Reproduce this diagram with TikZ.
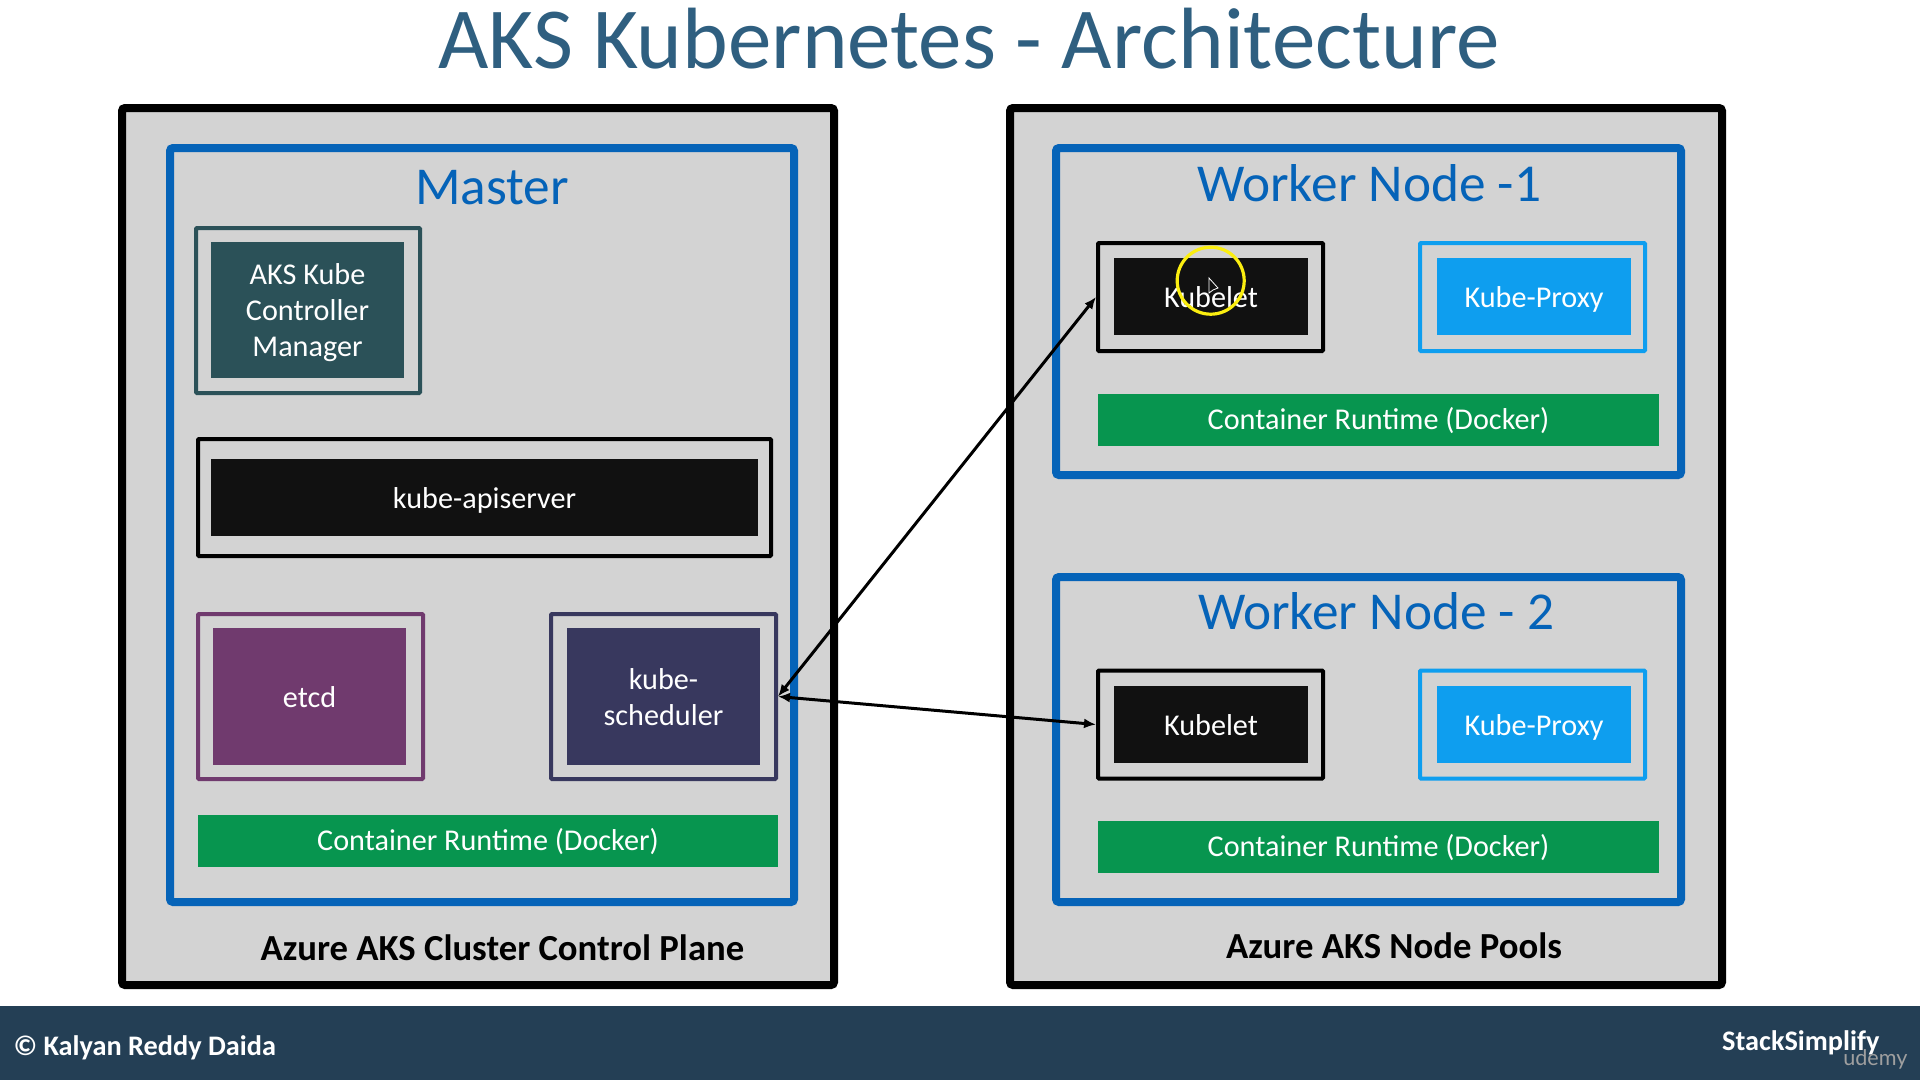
\documentclass[tikz,border=0pt]{standalone}
\usepackage{fontspec}
\setmainfont{Carlito}
\newfontfamily\udemyfont{Lato}
\usetikzlibrary{calc,arrows.meta}
\definecolor{titleblue}{HTML}{2F5F80}
\definecolor{panelgray}{HTML}{D3D3D3}
\definecolor{masterblue}{HTML}{0563B8}
\definecolor{kcmteal}{HTML}{2B5158}
\definecolor{nearblack}{HTML}{111111}
\definecolor{etcdpurple}{HTML}{703A6E}
\definecolor{schednavy}{HTML}{38385E}
\definecolor{proxyblue}{HTML}{0E9EEF}
\definecolor{runtimegreen}{HTML}{07954F}
\definecolor{footerblue}{HTML}{243F55}
\definecolor{ringyellow}{HTML}{FBEE10}
\tikzset{
  cluster/.style={draw=black, line width=8pt, fill=panelgray, rounded corners=3pt},
  plane/.style={draw=masterblue, line width=8pt, fill=panelgray, rounded corners=3pt},
  frame/.style={draw=#1, line width=4pt, rounded corners=1pt},
  inner/.style={fill=#1, text=white, align=center, font=\fontsize{30.2}{36}\selectfont},
  oneline/.style={text height=22pt, text depth=0pt},
  runtime/.style={fill=runtimegreen, text=white, minimum height=52pt, text height=19pt, text depth=0pt, font=\fontsize{30.2}{36}\selectfont},
  heading/.style={text=masterblue, font=\fontsize{53.3}{60}\selectfont},
  caption/.style={font=\fontsize{36.7}{40}\selectfont\bfseries},
  link/.style={{Latex[length=12pt,width=10pt]}-{Latex[length=12pt,width=10pt]}, line width=3pt},
}
\begin{document}
\begin{tikzpicture}[x=1pt, y=-1pt]
\useasboundingbox (0,0) rectangle (1920,1080);
% Title
\node[text=titleblue, font=\fontsize{87}{90}\selectfont] (title) at (969,39) {AKS Kubernetes - Architecture};
% Left cluster
\node[cluster, minimum width=712pt, minimum height=877pt] (controlplane) at (478,546.5) {};
\node[plane, minimum width=624pt, minimum height=754pt] (master) at (482,525) {};
\node[heading] (mastertitle) at (492,188) {Master};
% AKS Kube Controller Manager
\node[frame=kcmteal, minimum width=224pt, minimum height=165pt] (kcmframe) at (308,310.5) {};
\node[inner=kcmteal, minimum width=193pt, minimum height=136pt] (kcm) at (307.5,310) {\rule{0pt}{26pt}AKS Kube\\Controller\\Manager};
% kube-apiserver
\node[frame=black, minimum width=573pt, minimum height=117pt] (apiframe) at (484.5,497.5) {};
\node[inner=nearblack, oneline, minimum width=547pt, minimum height=77pt] (api) at (484.5,497.5) {kube-apiserver};
% etcd
\node[frame=etcdpurple, minimum width=225pt, minimum height=165pt] (etcdframe) at (310.5,696.5) {};
\node[inner=etcdpurple, oneline, minimum width=193pt, minimum height=137pt] (etcd) at (309.5,696.5) {etcd};
% kube-scheduler
\node[frame=schednavy, minimum width=225pt, minimum height=165pt] (schedframe) at (663.5,696.5) {};
\node[inner=schednavy, minimum width=193pt, minimum height=137pt] (sched) at (663.5,696.5) {\rule{0pt}{23pt}kube-\\scheduler};
% Container runtime on master
\node[runtime, minimum width=580pt] (runtimem) at (488,841) {Container Runtime (Docker)};
\node[caption] (captionl) at (502.5,948) {Azure AKS Cluster Control Plane};
% Right cluster
\node[cluster, minimum width=712pt, minimum height=877pt] (nodepools) at (1366,546.5) {};
% Worker 1
\node[plane, minimum width=625pt, minimum height=327pt] (workera) at (1368.5,311.5) {};
\node[heading] (workeratitle) at (1369,183) {Worker Node -1};
\node[frame=black, minimum width=225pt, minimum height=108pt] (kubeletaframe) at (1210.5,297) {};
\node[inner=nearblack, oneline, minimum width=194pt, minimum height=77pt] (kubeleta) at (1211,296.5) {Kubelet};
\node[frame=proxyblue, minimum width=225pt, minimum height=108pt] (proxyaframe) at (1532.5,297) {};
\node[inner=proxyblue, oneline, minimum width=194pt, minimum height=77pt] (proxya) at (1534,296.5) {Kube-Proxy};
\node[runtime, minimum width=561pt] (runtimea) at (1378.5,420) {Container Runtime (Docker)};
% Worker 2
\node[plane, minimum width=625pt, minimum height=325pt] (workerb) at (1368.5,739.5) {};
\node[heading] (workerbtitle) at (1376,611) {Worker Node - 2};
\node[frame=black, minimum width=225pt, minimum height=108pt] (kubeletbframe) at (1210.5,724.5) {};
\node[inner=nearblack, oneline, minimum width=194pt, minimum height=77pt] (kubeletb) at (1211,724.5) {Kubelet};
\node[frame=proxyblue, minimum width=225pt, minimum height=108pt] (proxybframe) at (1532.5,724.5) {};
\node[inner=proxyblue, oneline, minimum width=194pt, minimum height=77pt] (proxyb) at (1534,724.5) {Kube-Proxy};
\node[runtime, minimum width=561pt] (runtimeb) at (1378.5,847) {Container Runtime (Docker)};
\node[caption] (captionr) at (1394,946) {Azure AKS Node Pools};
% Arrows
\draw[link] (schedframe.east) -- (kubeletaframe.west);
\draw[link] (schedframe.east) -- (kubeletbframe.west);
% Pointer ring
\draw[ringyellow, line width=3.2pt] (1210.7,280.7) circle (33.5);
\draw[white, fill=nearblack, line width=0.8pt] (1209,278) -- (1209,293) -- (1213,290) -- (1218,288) -- cycle;
% Footer
\fill[footerblue] (0,1006) rectangle (1920,1080);
\node[text=white, anchor=west, font=\fontsize{28.3}{32}\selectfont\bfseries] (copyright) at (10,1048) {© Kalyan Reddy Daida};
\node[text=white, anchor=east, font=\fontsize{28.3}{32}\selectfont\bfseries] (brand) at (1883,1043) {StackSimplify};
\node[text=gray!75!white, anchor=east, font=\fontsize{21.6}{24}\selectfont\udemyfont] (udemy) at (1911,1059) {udemy};
\end{tikzpicture}
\end{document}
